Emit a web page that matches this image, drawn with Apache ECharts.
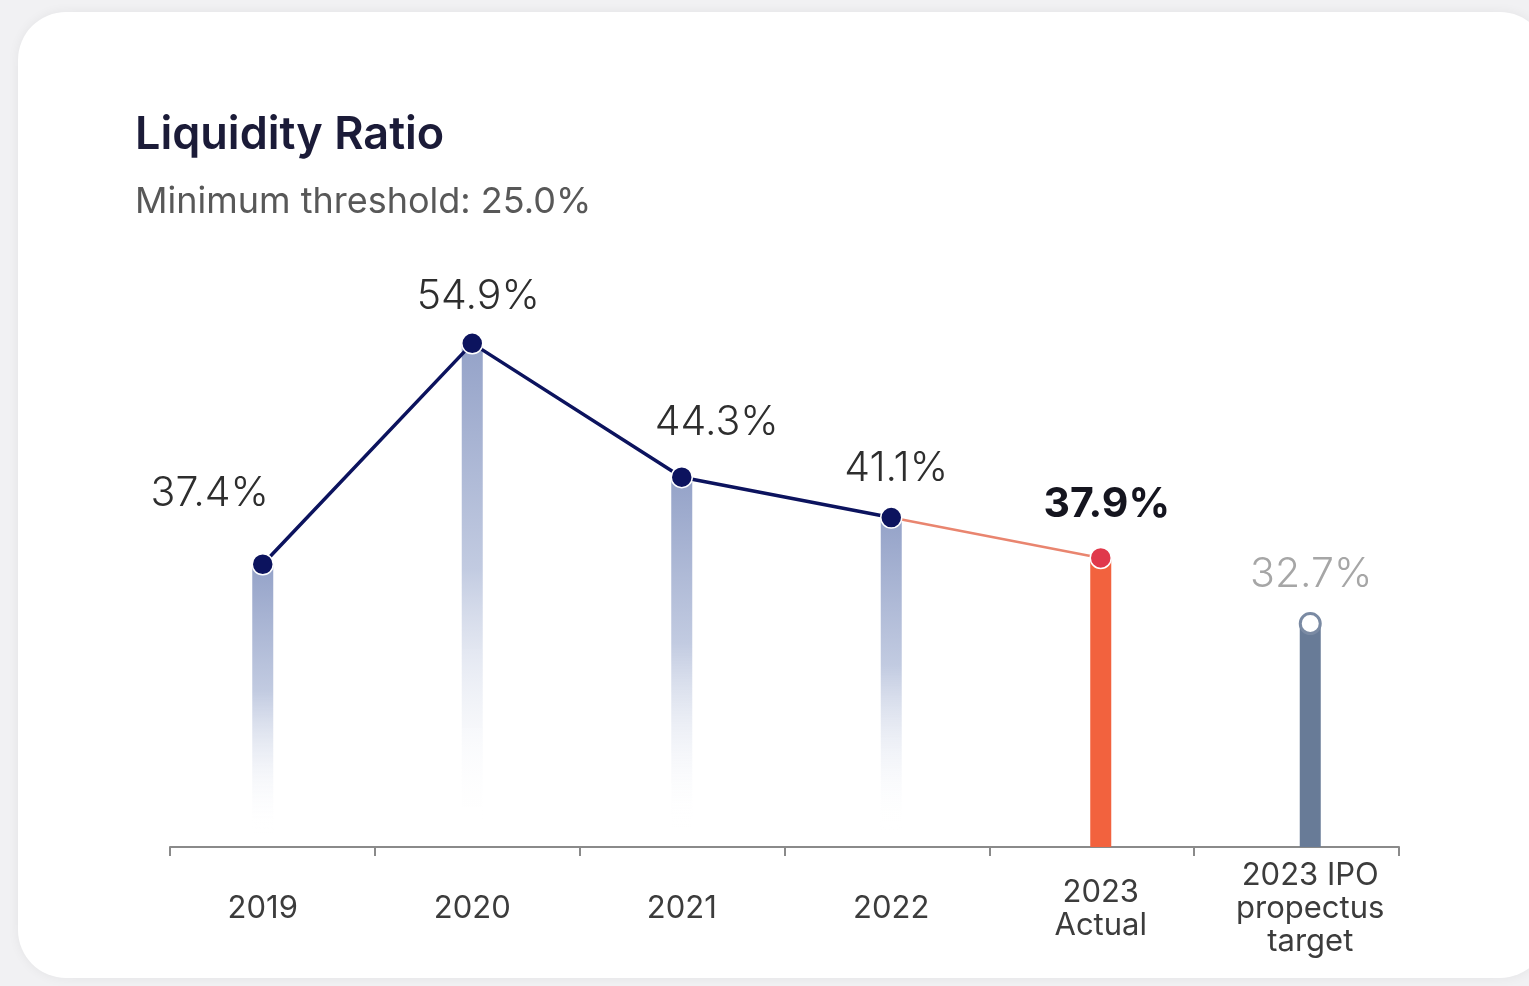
<!DOCTYPE html>
<html>
<head>
<meta charset="utf-8">
<script src="https://cdn.jsdelivr.net/npm/echarts@6/dist/echarts.min.js"></script>
<style>
  html, body { margin: 0; padding: 0; width: 1529px; height: 986px; background: #f1f1f3; overflow: hidden; }
  #card { position: absolute; left: 18px; top: 12px; width: 1530px; height: 966px; background: #ffffff; border-radius: 48px; box-shadow: 0 0 12px rgba(0,0,0,0.06); }
  #chart { position: absolute; left: 0; top: 0; width: 1529px; height: 986px; }
</style>
</head>
<body>
<div id="card"></div>
<div id="chart"></div>
<script>
const categories = ['2019', '2020', '2021', '2022', '2023\nActual', '2023 IPO\npropectus\ntarget'];
const values = [37.4, 54.9, 44.3, 41.1, 37.9, 32.7];
const historyIdx = [0, 1, 2, 3];
const actualIdx = 4;
const targetIdx = 5;

const FONT = 'Inter, "Noto Sans", sans-serif';
const navy = '#0c135e';

const fadeGrad = new echarts.graphic.LinearGradient(0, 0, 0, 1, [
  { offset: 0, color: '#94a2c8' },
  { offset: 0.45, color: '#c2cbe1' },
  { offset: 0.95, color: 'rgba(255,255,255,0)' },
  { offset: 1, color: 'rgba(255,255,255,0)' }
]);

const barData = values.map((v, i) => {
  let color = fadeGrad;
  if (i === actualIdx) color = '#f2623e';
  if (i === targetIdx) color = '#687b97';
  return { value: v, itemStyle: { color } };
});

const labelOffsets = [[-53, -34], [6, -10], [35, -18], [5, -12], [6, -17], [1, -12]];
function lbl(i, extra) {
  return Object.assign({
    show: true, position: 'top', offset: labelOffsets[i],
    fontFamily: FONT, fontSize: 41, fontWeight: 300, color: '#2e2e2e',
    formatter: (p) => p.value.toFixed(1) + '%'
  }, extra || {});
}

const histLine = values.map((v, i) => historyIdx.includes(i) ? { value: v, label: lbl(i) } : null);
const actLine = values.map((v, i) => {
  if (i === historyIdx[historyIdx.length - 1]) return { value: v, symbol: 'none' };
  if (i === actualIdx) return { value: v, label: lbl(i, { fontWeight: 700, color: '#15151f' }) };
  return null;
});
const targetPt = values.map((v, i) => i === targetIdx ? { value: v, label: lbl(i, { color: '#a6a6a6' }) } : null);

const chart = echarts.init(document.getElementById('chart'), null, { renderer: 'canvas' });
chart.setOption({
  backgroundColor: 'transparent',
  animation: false,
  title: {
    text: 'Liquidity Ratio',
    subtext: 'Minimum threshold: 25.0%',
    left: 130, top: 108,
    itemGap: 26,
    textStyle: { fontFamily: FONT, fontSize: 45, fontWeight: 600, color: '#1b1b38' },
    subtextStyle: { fontFamily: FONT, fontSize: 36, fontWeight: 400, color: '#585858' }
  },
  grid: [
    { left: 170, right: 130, top: 279, bottom: 139 },
    { left: 158, right: 114, top: 279, bottom: 139 }
  ],
  xAxis: [
    {
      type: 'category', gridIndex: 0,
      data: categories,
      boundaryGap: true,
      axisLine: { lineStyle: { color: '#8a8a8a', width: 2 } },
      axisTick: { show: true, length: 9, lineStyle: { color: '#8a8a8a', width: 2 } },
      axisLabel: { show: false }
    },
    {
      type: 'category', gridIndex: 1, data: categories, boundaryGap: true,
      axisLine: { show: false }, axisTick: { show: false },
      axisLabel: {
        interval: 0, margin: 62, verticalAlign: 'middle',
        fontFamily: FONT, fontSize: 31, lineHeight: 33, color: '#3c3c3c', align: 'center'
      }
    }
  ],
  yAxis: [
    { type: 'value', gridIndex: 0, min: 15, max: 60, show: false, splitLine: { show: false } },
    { type: 'value', gridIndex: 1, min: 15, max: 60, show: false, splitLine: { show: false } }
  ],
  series: [
    {
      type: 'bar', xAxisIndex: 1, yAxisIndex: 1, data: barData, barWidth: 21, z: 1, silent: true
    },
    {
      type: 'line', xAxisIndex: 1, yAxisIndex: 1, data: actLine, z: 3, connectNulls: false,
      lineStyle: { color: '#e9856f', width: 2.5 },
      symbol: 'circle', symbolSize: 21,
      itemStyle: { color: '#e0384b', borderColor: '#ffffff', borderWidth: 1.5 }
    },
    {
      type: 'line', xAxisIndex: 1, yAxisIndex: 1, data: histLine, z: 4,
      lineStyle: { color: navy, width: 3.5 },
      symbol: 'circle', symbolSize: 21,
      itemStyle: { color: navy, borderColor: '#ffffff', borderWidth: 1.5 }
    },
    {
      type: 'line', xAxisIndex: 1, yAxisIndex: 1, data: targetPt, z: 4,
      lineStyle: { width: 0 },
      symbol: 'circle', symbolSize: 20,
      itemStyle: { color: '#ffffff', borderColor: '#7a8aa3', borderWidth: 3 }
    }
  ]
});
</script>
</body>
</html>
